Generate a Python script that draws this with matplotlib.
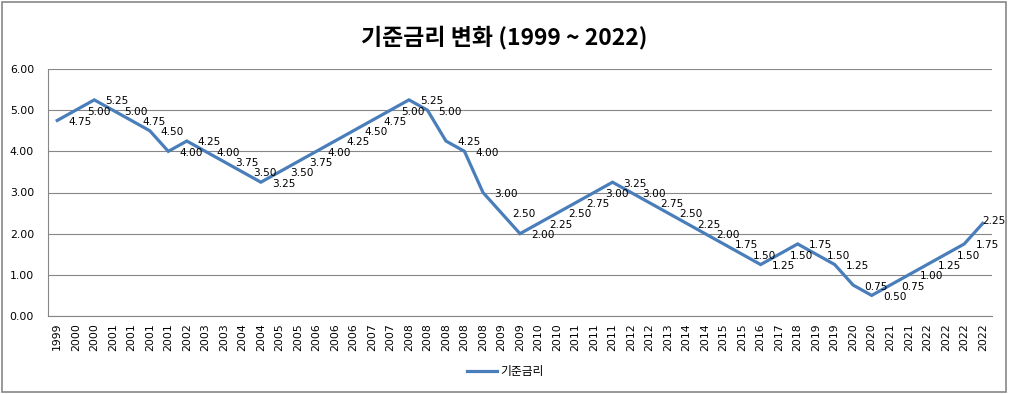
import matplotlib
matplotlib.use("Agg")
import matplotlib.pyplot as plt
from matplotlib.patches import Rectangle
from matplotlib.lines import Line2D

plt.rcParams['font.family'] = ['DejaVu Sans', 'Noto Sans CJK KR']

years = ["1999", "2000", "2000", "2001", "2001", "2001", "2001", "2002", "2003", "2003",
         "2004", "2004", "2005", "2005", "2006", "2006", "2006", "2007", "2007", "2008",
         "2008", "2008", "2008", "2008", "2009", "2009", "2010", "2010", "2011", "2011",
         "2011", "2012", "2012", "2013", "2014", "2014", "2015", "2015", "2016", "2017",
         "2018", "2019", "2019", "2020", "2020", "2021", "2021", "2022", "2022", "2022",
         "2022"]
rates = [4.75, 5.00, 5.25, 5.00, 4.75, 4.50, 4.00, 4.25, 4.00, 3.75,
         3.50, 3.25, 3.50, 3.75, 4.00, 4.25, 4.50, 4.75, 5.00, 5.25,
         5.00, 4.25, 4.00, 3.00, 2.50, 2.00, 2.25, 2.50, 2.75, 3.00,
         3.25, 3.00, 2.75, 2.50, 2.25, 2.00, 1.75, 1.50, 1.25, 1.50,
         1.75, 1.50, 1.25, 0.75, 0.50, 0.75, 1.00, 1.25, 1.50, 1.75,
         2.25]
series_name = "기준금리"
title = "기준금리 변화 (1999 ~ 2022)"
yticks = [0, 1, 2, 3, 4, 5, 6]

line_color = "#4A7EBB"
grid_color = "#868686"

fig = plt.figure(figsize=(10.09, 3.94), dpi=100)
ax = fig.add_axes([48/1009, 1-316/394, (992-48)/1009, (316-69)/394])

x = list(range(len(rates)))
ax.plot(x, rates, color=line_color, lw=2.3, solid_joinstyle='miter', zorder=3)
n = len(rates)
for xi, v in zip(x, rates):
    off = (8, -1) if xi < n - 1 else (0, 2)
    ax.annotate(f"{v:.2f}", (xi, v), xytext=off, textcoords='offset points',
                ha='left', va='center', fontsize=7.6, color='black', zorder=4,
                annotation_clip=False)

ax.set_xlim(-0.5, len(rates) - 0.5)
ax.set_ylim(0, 6)
ax.set_yticks(yticks)
ax.set_yticklabels([f"{t:.2f}" for t in yticks], fontsize=7.8)
ax.set_xticks(x)
ax.set_xticklabels(years, rotation=90, fontsize=7.8)
ax.tick_params(axis='y', length=0, pad=10)
ax.tick_params(axis='x', length=0, pad=5)
ax.grid(axis='y', color=grid_color, lw=0.8)
ax.set_axisbelow(True)
for s in ['top', 'right']:
    ax.spines[s].set_visible(False)
for s in ['left', 'bottom']:
    ax.spines[s].set_color(grid_color)
    ax.spines[s].set_linewidth(0.8)

fig.text(0.5, 1-37/394, title, ha='center', va='center', fontsize=16.5,
         fontweight='bold', family=['Noto Sans CJK KR', 'DejaVu Sans'])

handle = Line2D([], [], color=line_color, lw=2.3)
fig.legend([handle], [series_name], loc='center', bbox_to_anchor=(505/1009, 1-372/394),
           frameon=False, prop={'family': ['Noto Sans CJK KR', 'DejaVu Sans'], 'size': 8.5},
           handlelength=2.6, handletextpad=0.2)

fig.patches.append(Rectangle((1.5/1009, 1-392/394), (1006-1.5)/1009, (392-1.5)/394,
                             transform=fig.transFigure, fill=False, edgecolor='#888888',
                             lw=1.2))

fig.savefig("out.png", dpi=100, facecolor='white')
